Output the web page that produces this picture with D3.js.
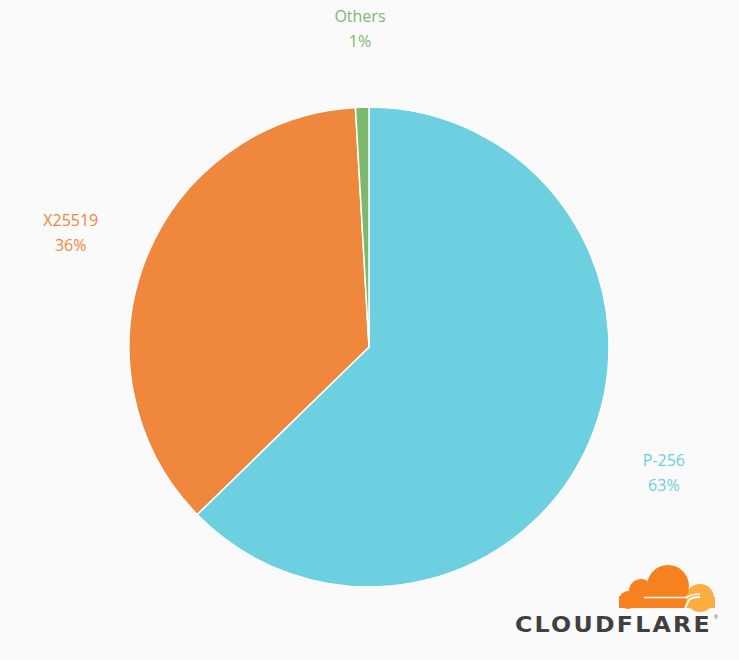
<!DOCTYPE html>
<html><head><meta charset="utf-8">
<script src="https://cdn.jsdelivr.net/npm/d3@7"></script>
<style>html,body{margin:0;padding:0;background:#fafafa;}svg{display:block;}</style>
</head><body>
<svg id="c" width="739" height="660"></svg>
<script>
const categories = ["P-256", "X25519", "Others"];
const values = [62.7, 36.4, 0.9];
const labels = ["63%", "36%", "1%"];
const colors = ["#6dd0e0", "#ef873c", "#7cb96e"];

const svg = d3.select("#c");
svg.append("rect").attr("width",739).attr("height",660).attr("fill","#fafafa");
const cx = 369, cy = 347, R = 240, LR = 320;
const g = svg.append("g").attr("transform",`translate(${cx},${cy})`);
const pie = d3.pie().sort(null).value(d=>d.v);
const arcs = pie(categories.map((c,i)=>({c, v:values[i], l:labels[i], col:colors[i]})));
const arc = d3.arc().innerRadius(0).outerRadius(R);
g.selectAll("path.s").data(arcs).join("path").attr("class","s")
  .attr("d",arc).attr("fill",d=>d.data.col).attr("stroke","#ffffff").attr("stroke-width",1.5).attr("stroke-linejoin","round");
const lab = g.selectAll("g.l").data(arcs).join("g").attr("class","l")
  .attr("transform",d=>{const a=(d.startAngle+d.endAngle)/2;return `translate(${LR*Math.sin(a)},${-LR*Math.cos(a)})`;});
lab.append("text").attr("text-anchor","middle").attr("y",-5).attr("fill",d=>d.data.col)
  .style("font-family","'Open Sans', sans-serif").style("font-size","16px").text(d=>d.data.c);
lab.append("text").attr("text-anchor","middle").attr("y",20).attr("fill",d=>d.data.col)
  .style("font-family","'Open Sans', sans-serif").style("font-size","16px").text(d=>d.data.l);

// Cloudflare logo
const logo = svg.append("g");
const orange = "#f6821f", light = "#fbad41";
logo.append("circle").attr("cx",700).attr("cy",598).attr("r",14).attr("fill",light);
logo.append("rect").attr("x",686).attr("y",597).attr("width",29).attr("height",11).attr("fill",light);
logo.append("circle").attr("cx",668).attr("cy",586).attr("r",21).attr("fill",orange);
logo.append("circle").attr("cx",641).attr("cy",591).attr("r",12).attr("fill",orange);
logo.append("circle").attr("cx",628).attr("cy",600).attr("r",9).attr("fill",orange);
logo.append("rect").attr("x",619).attr("y",596).attr("width",67).attr("height",12).attr("fill",orange);
logo.append("path").attr("d","M644,597.5 L688,597.5").attr("stroke","#fafafa").attr("stroke-width",1.6);
logo.append("path").attr("d","M686,597.5 Q692,594 700,594").attr("stroke","#fafafa").attr("stroke-width",1.6).attr("fill","none");
logo.append("path").attr("d","M685,608 L689,600 Q692,597 700,597").attr("stroke","#fafafa").attr("stroke-width",1.8).attr("fill","none");
logo.append("text").attr("x",515).attr("y",632).attr("fill","#404041")
  .style("font-family","'DejaVu Sans', sans-serif").style("font-weight","bold").style("font-size","21px")
  .style("letter-spacing","2px")
  .attr("textLength",197).attr("lengthAdjust","spacingAndGlyphs").text("CLOUDFLARE");
logo.append("text").attr("x",714).attr("y",619).attr("fill","#404041").style("font-size","5px").style("font-family","sans-serif").text("®");
</script>
</body></html>
